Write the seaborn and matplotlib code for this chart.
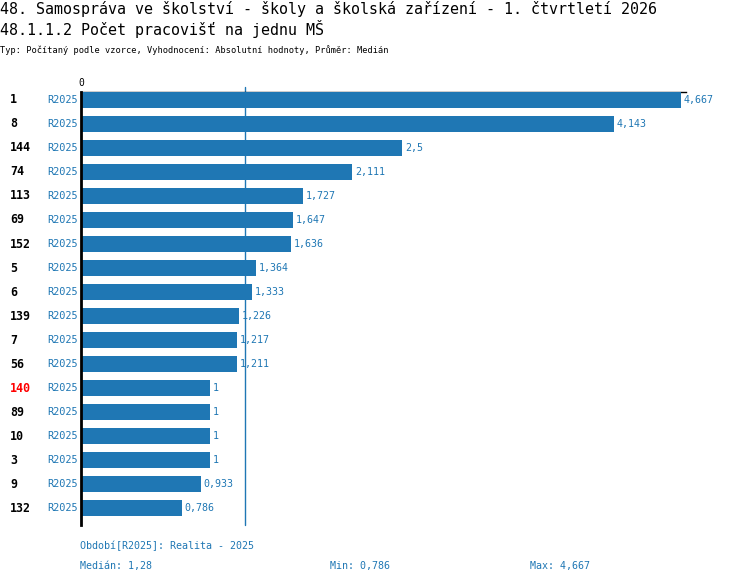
import matplotlib
matplotlib.use("Agg")
import matplotlib.pyplot as plt
import matplotlib.transforms as mtransforms
import seaborn as sns
import numpy as np

# ---- data ----
ids = ["1", "8", "144", "74", "113", "69", "152", "5", "6", "139", "7", "56",
       "140", "89", "10", "3", "9", "132"]
values = [4.667, 4.143, 2.5, 2.111, 1.727, 1.647, 1.636, 1.364, 1.333, 1.226,
          1.217, 1.211, 1, 1, 1, 1, 0.933, 0.786]
period = "R2025"
highlight = "140"

title1 = "48. Samospráva ve školství - školy a školská zařízení - 1. čtvrtletí 2026"
title2 = "48.1.1.2 Počet pracovišť na jednu MŠ"
subtitle = "Typ: Počítaný podle vzorce, Vyhodnocení: Absolutní hodnoty, Průměr: Medián"
footer_period = "Období[R2025]: Realita - 2025"

BLUE = "#1f77b4"
MONO = ["DejaVu Sans Mono"]

def fmt(v):
    return f"{v:g}".replace(".", ",")

sns.set_theme(style="white")
plt.rcParams["font.family"] = MONO

W, H = 750, 584
fig = plt.figure(figsize=(W / 100, H / 100), dpi=100)
left, right, top, bottom = 81, 686, 92, 525
ax = fig.add_axes([left / W, 1 - bottom / H, (right - left) / W, (bottom - top) / H])

n = len(values)
sns.barplot(x=values, y=ids, order=ids, orient="h", color=BLUE, saturation=1,
            width=16 / 24, ax=ax, zorder=3, linewidth=0)

xmax = 4.667 * (right - left) / (681 - left)
ax.set_xlim(0, xmax)
ax.set_ylim(n - 1 + 17 / 24, -8 / 24)

med = float(np.median(values))
ax.axvline(med, ymin=0, ymax=1 + 5 / (bottom - top), color=BLUE, lw=1.0,
           zorder=1, clip_on=False)

# spines
for s in ["right", "bottom"]:
    ax.spines[s].set_visible(False)
ax.spines["left"].set_color("black")
ax.spines["left"].set_linewidth(2.0)
ax.spines["left"].set_zorder(5)
ax.spines["top"].set_color("black")
ax.spines["top"].set_linewidth(1.0)

# ticks
ax.set_yticks([])
ax.set_ylabel("")
ax.xaxis.tick_top()
ax.set_xticks([0])
ax.set_xticklabels(["0"], fontsize=7, color="black")
ax.tick_params(axis="x", length=0, pad=3)
ax.set_xlabel("")

# value labels
ax.bar_label(ax.containers[0], labels=[fmt(v) for v in values], padding=2,
             color=BLUE, fontsize=7.2)

# row labels
tr = mtransforms.blended_transform_factory(fig.transFigure, ax.transData)
for i, cid in enumerate(ids):
    fig.text(10 / W, i, cid, transform=tr, ha="left", va="center",
             fontsize=8.4, fontweight="bold",
             color="red" if cid == highlight else "black")
    fig.text(47 / W, i, period, transform=tr, ha="left", va="center",
             fontsize=7.4, color=BLUE)

# titles
fig.text(0, 1 - 9 / H, title1, ha="left", va="center", fontsize=10.8, color="black")
fig.text(0, 1 - 29 / H, title2, ha="left", va="center", fontsize=10.8, color="black")
fig.text(0, 1 - 50 / H, subtitle, ha="left", va="center", fontsize=6.2, color="black")

# footer
fig.text(80 / W, 1 - 546 / H, footer_period, ha="left", va="center", fontsize=7.2, color=BLUE)
fig.text(80 / W, 1 - 566 / H, f"Medián: {med:.2f}".replace(".", ","), ha="left",
         va="center", fontsize=7.2, color=BLUE)
fig.text(330 / W, 1 - 566 / H, f"Min: {fmt(min(values))}", ha="left", va="center",
         fontsize=7.2, color=BLUE)
fig.text(530 / W, 1 - 566 / H, f"Max: {fmt(max(values))}", ha="left", va="center",
         fontsize=7.2, color=BLUE)

fig.savefig("out.png", dpi=100)
